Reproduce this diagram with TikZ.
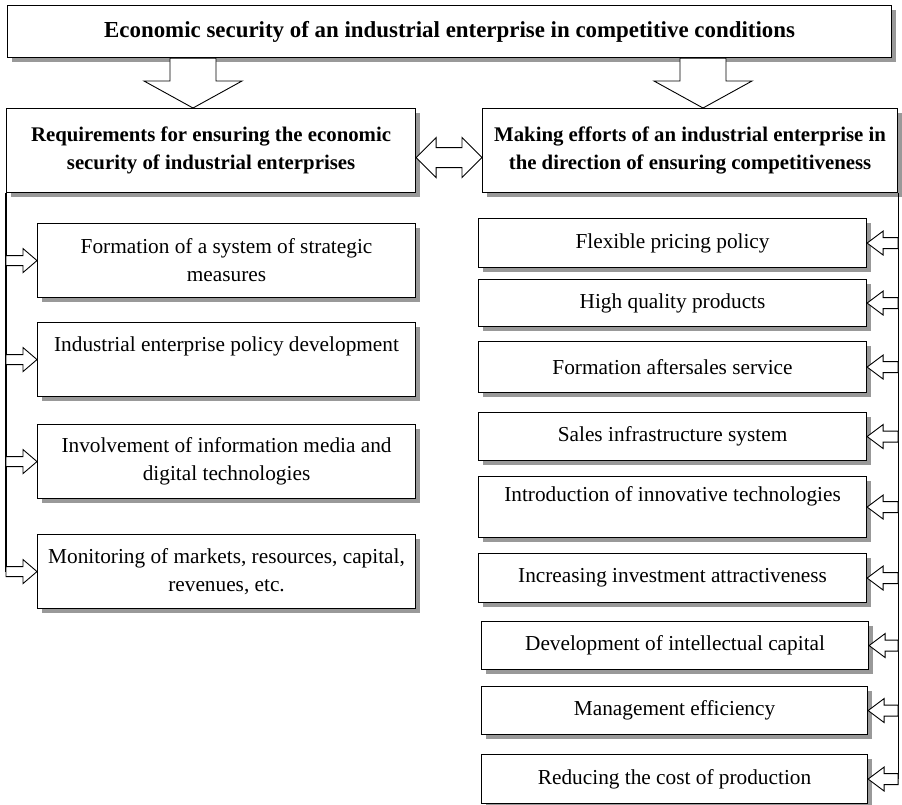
\documentclass[tikz,border=0pt]{standalone}
\usepackage{fontspec}
\setmainfont{Liberation Serif}
\usepackage{tikz}
\usetikzlibrary{calc,shadows}

\begin{document}
\begin{tikzpicture}[x=1pt,y=-1pt,line width=1.1pt,
	box/.style={draw, fill=white, anchor=north west, align=center,
		font=\fontsize{21.3}{28}\selectfont,
		drop shadow={shadow xshift=4pt, shadow yshift=-4pt, fill=black!40, opacity=1}},
	head/.style={box, font=\fontsize{20.8}{28}\selectfont\bfseries},
	fat/.style={draw, fill=white, line width=0.9pt, line join=miter}]
	\useasboundingbox (0,0) rectangle (902,804);

	\node[head, minimum width=884pt, minimum height=52pt, font=\fontsize{22.9}{28}\selectfont\bfseries] (top) at (7,5)
		{Economic security of an industrial enterprise in competitive conditions};
	\node[head, minimum width=409pt, minimum height=84pt] (hl) at (6,108)
		{Requirements for ensuring the economic\\security of industrial enterprises};
	\node[head, minimum width=415pt, minimum height=84pt] (hr) at (482,108)
		{Making efforts of an industrial enterprise in\\the direction of ensuring competitiveness};

	% requirements
	\node[box, minimum width=378pt, minimum height=74pt] (l1) at (37,223)
		{Formation of a system of strategic\\measures};
	\node[box, minimum width=378pt, minimum height=74pt, text depth=30pt] (l2) at (37,322)
		{Industrial enterprise policy development};
	\node[box, minimum width=378pt, minimum height=74pt] (l3) at (37,424)
		{Involvement of information media and\\digital technologies};
	\node[box, minimum width=378pt, minimum height=74pt] (l4) at (37,534)
		{Monitoring of markets, resources, capital,\\revenues, etc.};

	% efforts
	\node[box, minimum width=388pt, minimum height=49pt] (r1) at (478,218) {Flexible pricing policy};
	\node[box, minimum width=388pt, minimum height=47pt] (r2) at (478,279) {High quality products};
	\node[box, minimum width=388pt, minimum height=51pt] (r3) at (478,341) {Formation aftersales service};
	\node[box, minimum width=388pt, minimum height=48pt] (r4) at (478,412) {Sales infrastructure system};
	\node[box, minimum width=388pt, minimum height=61pt, text depth=26pt] (r5) at (478,476)
		{Introduction of innovative technologies};
	\node[box, minimum width=388pt, minimum height=49pt] (r6) at (478,553) {Increasing investment attractiveness};
	\node[box, minimum width=387pt, minimum height=48pt] (r7) at (481,621) {Development of intellectual capital};
	\node[box, minimum width=386pt, minimum height=48pt] (r8) at (481,686) {Management efficiency};
	\node[box, minimum width=386pt, minimum height=49pt] (r9) at (481,754) {Reducing the cost of production};

	\draw (hl.south west) -- (hl.south west |- l4.west);
	\draw (hr.south east) -- (hr.south east |- r9.east);

	\foreach \c/\h in {193/hl,703/hr}
		\draw[fat] let \p1=(top.south), \p2=(\h.north), \p3=(\c,0) in
			(\x3-23pt,\y1) -- (\x3+23pt,\y1) -- (\x3+23pt,\y2+27pt) -- (\x3+49pt,\y2+27pt)
			-- (\x3,\y2) -- (\x3-49pt,\y2+27pt) -- (\x3-23pt,\y2+27pt) -- cycle;

	\draw[fat] let \p1=(hl.east), \p2=(hr.west) in
		(\x1,\y1-7pt) -- (\x1+20pt,\y1+13pt) -- (\x1+20pt,\y1+3pt) -- (\x2-20pt,\y1+3pt)
		-- (\x2-20pt,\y1+13pt) -- (\x2,\y1-7pt) -- (\x2-20pt,\y1-27pt) -- (\x2-20pt,\y1-17pt)
		-- (\x1+20pt,\y1-17pt) -- (\x1+20pt,\y1-27pt) -- cycle;

	\foreach \b in {l1,l2,l3,l4}
		\draw[fat] let \p1=(\b.west), \p2=(hl.south west) in
			(\x2,\y1+5pt) -- (\x1-14pt,\y1+5pt) -- (\x1-14pt,\y1+12pt) -- (\x1,\y1)
			-- (\x1-14pt,\y1-12pt) -- (\x1-14pt,\y1-5pt) -- (\x2,\y1-5pt) -- cycle;

	\foreach \b in {r1,r2,r3,r4,r5,r6,r7,r8,r9}
		\draw[fat] let \p1=(\b.east), \p2=(hr.south east) in
			(\x2,\y1+5.5pt) -- (\x1+16pt,\y1+5.5pt) -- (\x1+16pt,\y1+12pt) -- (\x1,\y1)
			-- (\x1+16pt,\y1-12pt) -- (\x1+16pt,\y1-5.5pt) -- (\x2,\y1-5.5pt) -- cycle;
\end{tikzpicture}
\end{document}
